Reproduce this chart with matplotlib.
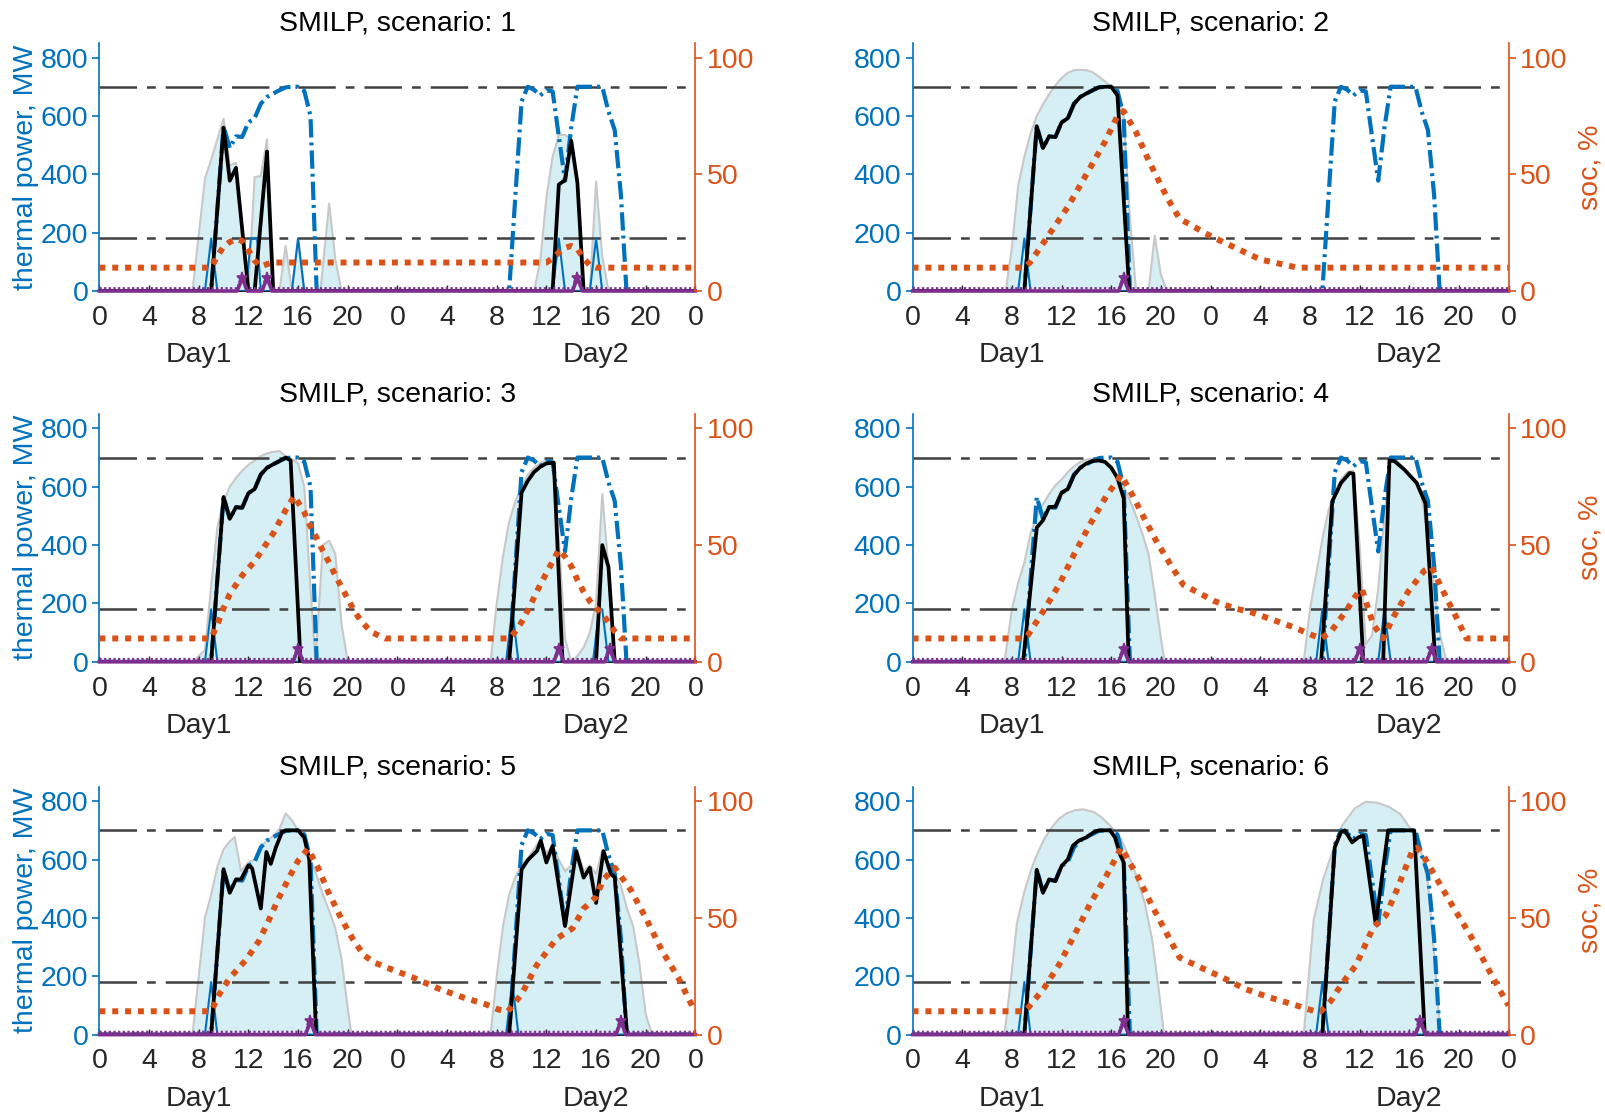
import numpy as np
import matplotlib
matplotlib.use("Agg")
import matplotlib.pyplot as plt
import matplotlib.transforms as mtransforms

plt.rcParams["font.family"] = ["Liberation Sans", "DejaVu Sans"]

BLUE = "#0072BD"
ORANGE = "#D95319"
PURPLE = "#7E2F8E"
FILL = "#d5eff4"
EDGE = "#c8c8c8"
LIMIT = "#404040"
AXIS = "#262626"

# x axis: two days, hourly ticks every 4 h
hour_ticks = list(range(0, 49, 4))
hour_labels = ["0", "4", "8", "12", "16", "20", "0", "4", "8", "12", "16", "20", "0"]
day_labels = ["Day1", "Day2"]
day_pos = [8, 40]
limits_mw = [700, 180]
soc_ticks = [0, 50, 100]

# thermal schedule (same in every scenario), (hour, MW)
thermal_ref = [(0, 0), (9.0, 0), (10.0, 565), (10.5, 490), (11.0, 530), (11.5, 528), (12.0, 578),
               (12.5, 592), (13.0, 642), (13.5, 665), (14.0, 677), (14.5, 688), (15.0, 698),
               (15.5, 700), (16.0, 700), (16.5, 686), (17.0, 600), (17.5, 0), (33.0, 0),
               (34.0, 650), (34.5, 700), (35.0, 690), (35.5, 670), (36.0, 688), (36.5, 684),
               (37.0, 530), (37.5, 378), (38.0, 560), (38.5, 700), (40.5, 700), (41.0, 615),
               (41.5, 552), (42.0, 330), (42.45, 0), (48, 0)]

# ---- scenario 1
avail_1 = [(0, 0), (7.5, 0), (8.5, 385), (9.0, 450), (9.5, 520), (10.0, 590), (10.5, 430),
           (11.0, 440), (11.5, 210), (12.0, 0), (12.5, 390), (13.0, 395), (13.5, 520), (14.0, 0),
           (14.5, 0), (15.0, 155), (15.5, 0), (16.0, 180), (16.5, 0), (17.8, 0), (18.5, 300),
           (19.0, 110), (19.5, 0), (35.0, 0), (35.5, 100), (36.0, 320), (36.5, 460), (37.0, 535),
           (37.5, 535), (38.0, 520), (38.5, 380), (39.0, 0), (39.5, 0), (40.0, 375), (40.5, 120),
           (41.0, 0), (48, 0)]
unit_1 = [(0, 0), (9.0, 0), (10.0, 560), (10.5, 378), (11.0, 422), (12.0, 0), (12.5, 0),
          (13.5, 478), (14.0, 0), (36.5, 0), (37.0, 365), (37.5, 380), (38.0, 515), (38.5, 370),
          (39.0, 0), (48, 0)]
startup_1 = [(0, 0), (8.5, 0), (9.0, 180), (9.5, 0), (11.8, 0), (12.2, 180), (12.7, 180),
             (13.0, 0), (15.5, 0), (16.0, 180), (16.5, 0), (36.5, 0), (37.0, 180), (37.5, 0),
             (39.5, 0), (40.0, 180), (40.5, 0), (48, 0)]
shutdown_1 = [(0, 0), (11.1, 0), (11.5, 45), (11.9, 0), (13.1, 0), (13.5, 45), (13.9, 0),
              (38.1, 0), (38.5, 45), (38.9, 0), (48, 0)]
soc_1 = [(0, 10), (9.0, 10), (9.5, 15), (10.0, 19), (10.5, 21), (11.0, 22.3), (11.5, 21.5),
         (12.0, 17.5), (12.5, 13), (13.0, 10.5), (13.5, 11.5), (14.0, 12.2), (36.0, 12.2),
         (36.5, 14), (37.0, 16.5), (37.5, 18.5), (38.0, 19.3), (38.5, 18), (39.0, 14),
         (39.5, 11), (40.0, 10), (48, 10)]

# ---- scenario 2
avail_2 = [(0, 0), (7.5, 0), (8.0, 150), (8.5, 360), (9.0, 460), (9.5, 540), (10.0, 600),
           (10.5, 640), (11.0, 675), (11.5, 705), (12.0, 730), (12.5, 748), (13.0, 757),
           (13.5, 758), (14.0, 757), (14.5, 750), (15.0, 735), (15.5, 718), (16.0, 700),
           (16.5, 680), (17.0, 600), (17.5, 250), (18.0, 0), (19.0, 0), (19.5, 190), (20.0, 55),
           (20.5, 0), (48, 0)]
unit_2 = [(0, 0), (9.0, 0), (10.0, 565), (10.5, 490), (11.0, 530), (11.5, 528), (12.0, 578),
          (12.5, 592), (13.0, 642), (13.5, 665), (14.0, 677), (14.5, 688), (15.0, 698),
          (15.5, 700), (16.0, 700), (16.5, 670), (17.45, 0), (48, 0)]
startup_2 = [(0, 0), (8.5, 0), (9.0, 180), (9.5, 0), (48, 0)]
shutdown_2 = [(0, 0), (16.6, 0), (17.0, 45), (17.4, 0), (48, 0)]
soc_2 = [(0, 10), (9.0, 10), (9.5, 12.5), (12.5, 36), (15.5, 64), (16.5, 75), (17.0, 77),
         (18.0, 68), (19.0, 56), (20.5, 40), (21.5, 31), (24.0, 23.5), (26.0, 18.5),
         (28.0, 13.5), (31.0, 10), (48, 10)]

# ---- scenario 3
avail_3 = [(0, 0), (7.5, 0), (8.0, 20), (8.5, 40), (9.0, 260), (9.5, 460), (10.0, 550),
           (10.5, 600), (11.0, 630), (11.5, 655), (12.0, 675), (12.5, 690), (13.0, 705),
           (13.5, 714), (14.0, 720), (14.5, 722), (15.0, 705), (15.5, 695), (16.0, 680),
           (16.5, 600), (17.0, 250), (17.4, 0), (18.0, 400), (18.5, 415), (19.0, 370),
           (19.5, 130), (20.0, 0), (31.5, 0), (32.0, 200), (32.5, 360), (33.0, 480), (33.5, 550),
           (34.0, 600), (34.5, 640), (35.0, 665), (35.5, 680), (36.0, 690), (36.5, 690),
           (37.0, 420), (37.5, 80), (38.0, 0), (38.5, 20), (39.0, 50), (39.5, 100), (40.0, 200),
           (40.5, 575), (41.0, 320), (41.5, 0), (48, 0)]
unit_3 = [(0, 0), (9.0, 0), (10.0, 565), (10.5, 490), (11.0, 530), (11.5, 528), (12.0, 578),
          (12.5, 592), (13.0, 642), (13.5, 665), (14.0, 677), (14.5, 688), (15.0, 700),
          (15.4, 690), (16.2, 0), (33.0, 0), (34.0, 580), (34.5, 620), (35.0, 650), (35.5, 668),
          (36.0, 680), (36.6, 682), (37.3, 0), (40.0, 0), (40.5, 400), (41.0, 325), (41.5, 0),
          (48, 0)]
startup_3 = [(0, 0), (8.5, 0), (9.0, 180), (9.5, 0), (32.75, 0), (33.25, 180), (33.75, 0),
             (39.75, 0), (40.25, 180), (40.5, 180), (41.0, 0), (48, 0)]
shutdown_3 = [(0, 0), (15.6, 0), (16.0, 45), (16.4, 0), (36.6, 0), (37.0, 45), (37.4, 0),
              (40.7, 0), (41.1, 45), (41.5, 0), (48, 0)]
soc_3 = [(0, 10), (9.0, 10), (9.5, 16), (10.0, 23), (10.5, 29), (11.0, 33), (11.5, 37),
         (12.0, 40), (12.5, 43), (13.0, 47), (13.5, 51), (14.0, 55), (14.5, 60), (15.0, 65),
         (15.7, 71), (16.5, 64), (17.0, 58), (17.5, 53), (18.0, 47.5), (18.5, 42.5), (19.0, 37),
         (19.5, 32), (20.0, 27), (20.5, 22), (21.0, 18), (21.5, 15), (22.0, 12.5), (23.0, 10),
         (33.0, 10), (33.5, 13), (34.0, 17), (34.5, 22), (35.0, 27.5), (35.5, 33), (36.0, 38),
         (36.5, 43), (37.0, 48), (37.5, 45), (38.0, 41), (38.5, 35), (39.0, 30), (39.5, 26),
         (40.0, 23), (40.5, 20.5), (41.0, 17), (41.5, 13), (42.0, 10), (48, 10)]

# ---- scenario 4
avail_4 = [(0, 0), (7.4, 0), (8.0, 180), (8.5, 270), (9.0, 340), (9.5, 440), (10.0, 500),
           (10.5, 540), (11.0, 575), (11.5, 605), (12.0, 625), (12.5, 650), (13.0, 670),
           (13.5, 685), (14.0, 693), (14.5, 696), (15.0, 694), (15.5, 685), (16.0, 665),
           (16.5, 635), (17.0, 600), (17.5, 555), (18.0, 500), (18.5, 440), (19.0, 370),
           (19.5, 230), (20.0, 80), (20.3, 0), (31.5, 0), (32.0, 180), (32.5, 300), (33.0, 420),
           (33.5, 520), (34.0, 580), (34.5, 625), (35.0, 650), (35.5, 655), (36.0, 400),
           (36.5, 60), (37.0, 90), (37.5, 250), (38.0, 500), (38.5, 690), (39.0, 690),
           (39.5, 665), (40.0, 640), (40.5, 615), (41.0, 570), (41.5, 420), (42.0, 250),
           (42.5, 90), (43.0, 0), (48, 0)]
unit_4 = [(0, 0), (8.9, 0), (10.0, 460), (10.5, 485), (11.0, 530), (11.5, 532), (12.0, 580),
          (12.5, 592), (13.0, 640), (13.5, 665), (14.0, 680), (14.5, 688), (15.0, 690),
          (15.5, 685), (16.0, 665), (16.5, 630), (17.0, 560), (17.4, 0), (32.9, 0), (33.8, 550),
          (34.5, 613), (35.2, 647), (35.5, 645), (36.3, 0), (37.9, 0), (38.4, 690), (38.8, 688),
          (39.6, 659), (40.6, 613), (41.3, 543), (42.1, 0), (48, 0)]
startup_4 = [(0, 0), (8.5, 0), (9.0, 180), (9.5, 0), (32.5, 0), (33.0, 180), (33.5, 0),
             (37.5, 0), (38.0, 180), (38.5, 0), (48, 0)]
shutdown_4 = [(0, 0), (16.6, 0), (17.0, 45), (17.4, 0), (35.6, 0), (36.0, 45), (36.4, 0),
              (41.4, 0), (41.8, 45), (42.2, 0), (48, 0)]
soc_4 = [(0, 10), (9.0, 10), (9.3, 11.5), (10.5, 21.5), (11.8, 33), (13.0, 46), (14.3, 59),
         (15.6, 71), (16.8, 80), (17.75, 71), (18.7, 61), (19.6, 52), (20.9, 40.5), (21.8, 33),
         (24.3, 26), (25.9, 23), (27.4, 21), (29.0, 18), (30.6, 15), (32.1, 11.6), (32.9, 10),
         (33.7, 13), (34.9, 21.7), (35.9, 30), (36.2, 31), (37.1, 16), (37.9, 10), (38.7, 19),
         (39.9, 30), (41.2, 39), (41.8, 40.5), (42.75, 30), (43.7, 20), (44.6, 10), (48, 10)]

# ---- scenario 5
avail_5 = [(0, 0), (7.5, 0), (8.5, 400), (9.0, 480), (9.5, 575), (10.0, 635), (10.5, 662),
           (10.9, 677), (11.4, 561), (12.0, 590), (12.5, 600), (13.0, 645), (13.5, 665),
           (14.0, 680), (14.5, 705), (15.0, 758), (15.5, 735), (16.0, 700), (16.5, 660),
           (17.0, 600), (17.5, 545), (18.0, 480), (18.5, 425), (19.0, 365), (19.5, 260),
           (20.0, 90), (20.3, 0), (31.5, 0), (32.0, 200), (32.5, 370), (33.0, 480), (33.5, 540),
           (34.0, 580), (34.5, 605), (35.0, 635), (35.5, 668), (36.0, 620), (36.5, 650),
           (37.0, 600), (37.5, 560), (38.0, 580), (38.5, 632), (39.0, 560), (39.5, 580),
           (40.0, 550), (40.5, 632), (41.0, 580), (41.5, 550), (42.0, 510), (42.5, 430),
           (43.0, 370), (43.5, 240), (44.0, 70), (44.5, 0), (48, 0)]
unit_5 = [(0, 0), (9.0, 0), (10.0, 567), (10.5, 486), (11.0, 532), (11.4, 532), (12.0, 580),
          (12.3, 570), (13.0, 432), (13.45, 626), (13.8, 585), (14.2, 640), (14.7, 694),
          (15.0, 700), (16.0, 700), (16.5, 676), (16.9, 600), (17.45, 0), (33.0, 0), (34.0, 566),
          (34.5, 598), (35.25, 630), (35.55, 665), (36.0, 590), (36.5, 647), (37.5, 372),
          (38.4, 629), (39.0, 538), (39.5, 572), (40.0, 451), (40.6, 629), (41.2, 549),
          (41.5, 540), (42.5, 0), (48, 0)]
startup_5 = [(0, 0), (8.5, 0), (9.0, 180), (9.5, 0), (32.75, 0), (33.25, 180), (33.75, 0),
             (48, 0)]
shutdown_5 = [(0, 0), (16.6, 0), (17.0, 45), (17.4, 0), (41.6, 0), (42.0, 45), (42.4, 0),
              (48, 0)]
soc_5 = [(0, 10), (9.0, 10), (9.67, 17.4), (10.46, 24), (11.8, 32), (12.84, 40), (13.6, 48.5),
         (14.4, 58), (15.35, 68), (16.0, 74.5), (16.8, 79.6), (17.6, 71.6), (18.4, 61.5),
         (19.45, 50), (20.4, 41), (21.3, 34), (22.1, 31), (23.0, 29), (25.2, 24.6),
         (27.4, 19.5), (29.3, 15.9), (31.1, 13), (32.1, 10.8), (32.9, 10), (34.0, 17.3),
         (35.2, 29.6), (36.8, 41), (38.1, 45.5), (39.0, 54), (40.0, 59), (40.6, 66.5),
         (41.5, 71.5), (42.8, 62), (44.1, 49), (45.3, 36), (46.6, 24.6), (47.8, 11.6),
         (48, 10.5)]

# ---- scenario 6
avail_6 = [(0, 0), (7.4, 0), (8.0, 220), (8.4, 381), (9.0, 490), (9.6, 572), (10.0, 615),
           (10.6, 670), (11.2, 710), (11.8, 740), (12.4, 758), (13.06, 769), (13.7, 772),
           (14.6, 763), (15.2, 745), (15.9, 717), (16.8, 670), (17.75, 578), (18.7, 451),
           (19.3, 324), (19.8, 162), (20.25, 0), (31.5, 0), (32.3, 393), (33.06, 532),
           (33.7, 613), (34.6, 717), (35.6, 775), (36.5, 798), (37.4, 795), (38.4, 780),
           (39.3, 755), (40.1, 705), (40.5, 680), (41.0, 620), (41.5, 520), (42.0, 280),
           (42.5, 0), (48, 0)]
unit_6 = [(0, 0), (9.0, 0), (10.0, 565), (10.5, 486), (11.0, 532), (11.5, 526), (12.0, 578),
          (12.5, 600), (12.9, 647), (13.4, 665), (14.0, 676), (14.6, 694), (15.0, 700),
          (15.9, 700), (16.3, 676), (16.7, 618), (17.0, 590), (17.35, 0), (33.0, 0), (34.0, 642),
          (34.5, 694), (34.8, 700), (35.4, 659), (35.9, 676), (36.3, 682), (37.3, 378),
          (38.3, 700), (40.4, 700), (41.25, 0), (48, 0)]
startup_6 = [(0, 0), (8.5, 0), (9.0, 180), (9.5, 0), (32.5, 0), (33.0, 180), (33.5, 0), (48, 0)]
shutdown_6 = [(0, 0), (16.6, 0), (17.0, 45), (17.4, 0), (40.5, 0), (40.9, 45), (41.3, 0),
              (48, 0)]
soc_6 = [(0, 10), (9.0, 10), (9.3, 11.5), (10.6, 20), (11.8, 30), (13.06, 43), (14.3, 56),
         (15.6, 68), (16.8, 80), (18.1, 68), (19.3, 55), (20.6, 42), (21.5, 33), (23.1, 29),
         (24.9, 24.6), (26.8, 19.5), (28.7, 16), (30.6, 13), (32.4, 10), (32.9, 10),
         (33.7, 14.5), (34.6, 22), (35.7, 29.6), (37.1, 46), (38.1, 51), (39.0, 62),
         (40.3, 79.5), (40.6, 80), (41.1, 77), (42.25, 66.4), (43.5, 55), (44.9, 42.7),
         (46.3, 28.7), (47.75, 14.7), (48, 12.5)]

scenarios = [
    (avail_1, unit_1, startup_1, shutdown_1, soc_1),
    (avail_2, unit_2, startup_2, shutdown_2, soc_2),
    (avail_3, unit_3, startup_3, shutdown_3, soc_3),
    (avail_4, unit_4, startup_4, shutdown_4, soc_4),
    (avail_5, unit_5, startup_5, shutdown_5, soc_5),
    (avail_6, unit_6, startup_6, shutdown_6, soc_6),
]


def xy(pairs):
    a = np.asarray(pairs, dtype=float)
    return a[:, 0], a[:, 1]


FW, FH = 1606, 1117
fig = plt.figure(figsize=(FW / 100, FH / 100), dpi=100)
col_x = [99.4, 912.6]
row_top = [43.0, 413.8, 786.6]
AW, AH = 596.0, 248.0
FS = 20.5

for k, (avail, unit, startup, shutdown, soc) in enumerate(scenarios):
    r, c = divmod(k, 2)
    x0, y0 = col_x[c], row_top[r]
    ax = fig.add_axes([x0 / FW, 1 - (y0 + AH) / FH, AW / FW, AH / FH])
    ax2 = ax.twinx()

    t, v = xy(avail)
    ax.fill_between(t, 0, v, color=FILL, lw=0, zorder=1)
    ax.plot(t, v, color=EDGE, lw=1.5, zorder=1.2)
    for lvl in limits_mw:
        ax.axhline(lvl, color=LIMIT, lw=1.8, dashes=(15, 4, 3.5, 4), zorder=1.5)

    t, v = xy(startup)
    ax.plot(t, v, color=BLUE, lw=1.5, zorder=2)
    t, v = xy(thermal_ref)
    ax.plot(t, v, color=BLUE, lw=3.0, dashes=(4.4, 1.2, 0.7, 1.2), zorder=3)
    t, v = xy(unit)
    ax.plot(t, v, color="k", lw=2.7, zorder=4)

    # shutdown marks: solid trace on the axis plus a dotted trace just above it
    t, v = xy(shutdown)
    peaks = [i for i in range(len(v)) if v[i] > 0]
    ax.plot(t, v, color=PURPLE, lw=2.6, zorder=6, clip_on=False,
            marker="*", ms=8, mew=1.2, markevery=peaks)
    up = ax.transData + mtransforms.ScaledTranslation(0, 2 / 72, fig.dpi_scale_trans)
    ax.plot(t, v, color=PURPLE, lw=1.6, dashes=(1, 1.1), zorder=6, clip_on=False, transform=up)

    t, v = xy(soc)
    ax2.plot(t, v, color=ORANGE, lw=4.3, dashes=(1, 1.15), dash_capstyle="butt", zorder=5)

    ax.set_xlim(0, 48)
    ax.set_ylim(0, 850)
    ax2.set_ylim(0, 106.25)
    ax.set_xticks(hour_ticks)
    ax.set_xticklabels(hour_labels)
    ax.set_yticks([0, 200, 400, 600, 800])
    ax2.set_yticks(soc_ticks)

    for s in ("top", "right"):
        ax.spines[s].set_visible(False)
    for s in ("top", "left", "bottom"):
        ax2.spines[s].set_visible(False)
    ax.spines["left"].set_color(BLUE)
    ax.spines["left"].set_linewidth(1.2)
    ax.spines["bottom"].set_color(AXIS)
    ax2.spines["right"].set_color(ORANGE)
    ax2.spines["right"].set_linewidth(1.2)

    ax.tick_params(axis="x", direction="in", length=4, width=1, colors=AXIS,
                   labelsize=FS, pad=10)
    ax.tick_params(axis="y", direction="out", length=5, width=1.2, colors=BLUE,
                   labelsize=FS, pad=3)
    ax2.tick_params(axis="y", direction="out", length=5, width=1.2, colors=ORANGE,
                    labelsize=FS, pad=3)

    ax.set_title(f"SMILP, scenario: {k + 1}", fontsize=FS, pad=9)
    tr = mtransforms.blended_transform_factory(ax.transData, ax.transAxes)
    for lab, pos in zip(day_labels, day_pos):
        ax.text(pos, -64.5 / AH, lab, transform=tr, ha="center", va="center",
                fontsize=FS, color=AXIS)

    yc = 1 - (y0 + AH / 2) / FH
    if c == 0:
        fig.text(26.5 / FW, yc, "thermal power, MW", rotation=90, ha="center",
                 va="center", fontsize=FS, color=BLUE)
    else:
        fig.text(1590.6 / FW, yc, "soc, %", rotation=90, ha="center", va="center",
                 fontsize=FS, color=ORANGE)

fig.savefig("out.png", dpi=100)
